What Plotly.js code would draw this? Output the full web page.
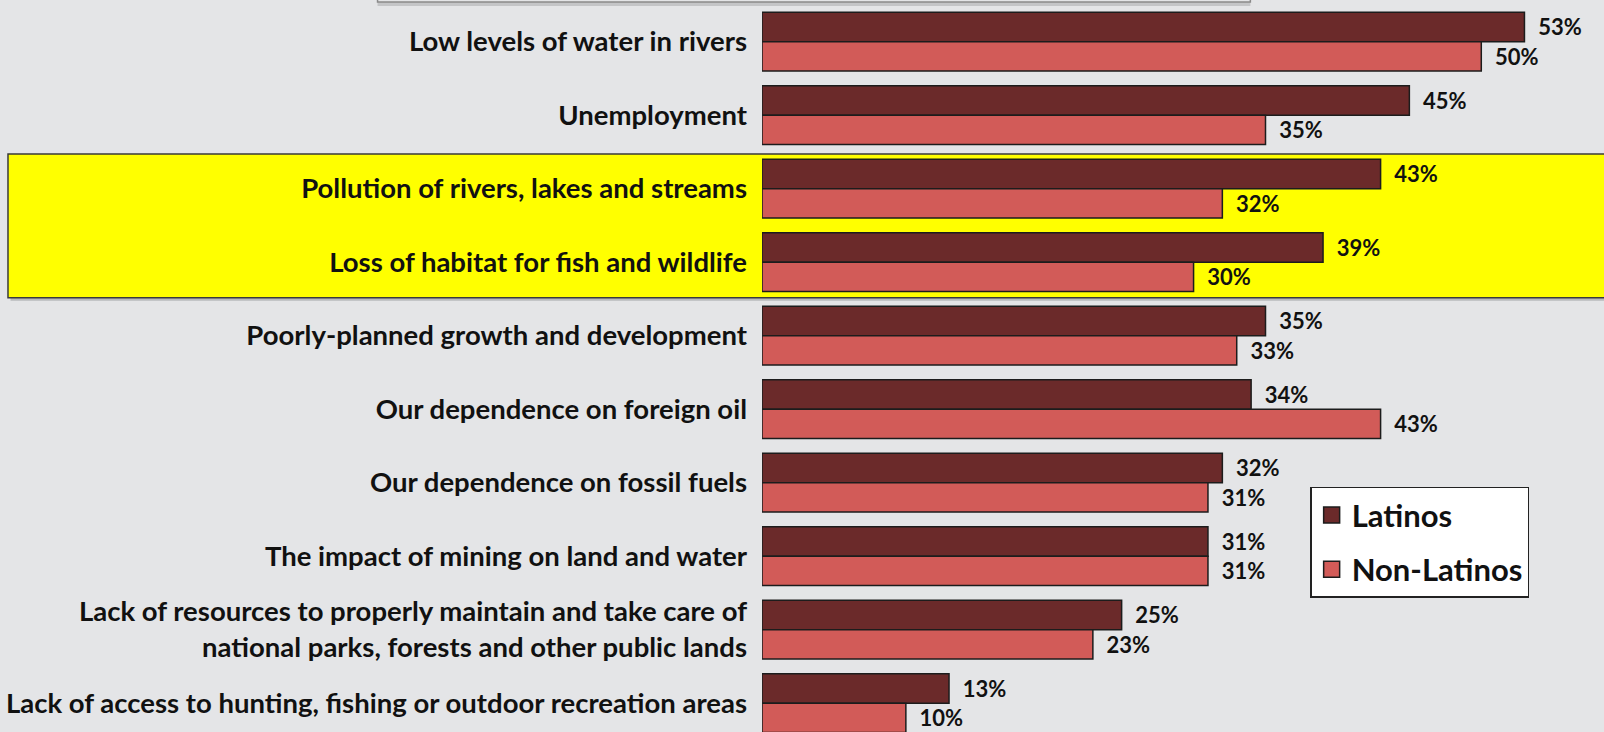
<!DOCTYPE html>
<html><head><meta charset="utf-8">
<script src="https://cdn.plot.ly/plotly-3.0.1.min.js"></script>
<style>html,body{margin:0;padding:0;background:#e4e5e7;}</style>
</head><body><div id="chart" style="width:1604px;height:732px;"></div>
<script>
var categories = [
  "Low levels of water in rivers",
  "Unemployment",
  "Pollution of rivers, lakes and streams",
  "Loss of habitat for fish and wildlife",
  "Poorly-planned growth and development",
  "Our dependence on foreign oil",
  "Our dependence on fossil fuels",
  "The impact of mining on land and water",
  "Lack of resources to properly maintain and take care of<br>national parks, forests and other public lands",
  "Lack of access to hunting, fishing or outdoor recreation areas"
];
var latinos = [53, 45, 43, 39, 35, 34, 32, 31, 25, 13];
var nonLatinos = [50, 35, 32, 30, 33, 43, 31, 31, 23, 10];
var seriesNames = ["Latinos", "Non-Latinos"];
var seriesColors = ["#6b2a2a", "#d25b58"];

var FONT = "Lato, 'Open Sans', sans-serif";
var NB = "\u00a0\u00a0";

function barTrace(name, vals, color) {
  return {
    type: "bar", orientation: "h", name: name,
    x: vals, y: categories,
    marker: {color: color, line: {color: "#1c1c1c", width: 1.5}},
    text: vals.map(function(v){ return NB + v + "%"; }),
    textposition: "outside", cliponaxis: false,
    textfont: {family: FONT, size: 22, color: "#111", weight: "bold"},
    showlegend: false, hoverinfo: "skip"
  };
}
function legendTrace(name, color, grp) {
  return {
    type: "scatter", mode: "markers", name: name,
    x: [null], y: [null], legendgroup: grp,
    marker: {symbol: "square", size: 20, color: color, line: {color: "#1c1c1c", width: 1.5}},
    hoverinfo: "skip"
  };
}

var data = [
  barTrace(seriesNames[0], latinos, seriesColors[0]),
  barTrace(seriesNames[1], nonLatinos, seriesColors[1]),
  legendTrace(seriesNames[0], seriesColors[0], "a"),
  legendTrace(seriesNames[1], seriesColors[1], "b")
];

var layout = {
  width: 1604, height: 732,
  margin: {l: 762, r: 0, t: 0, b: 0, pad: 0},
  paper_bgcolor: "#e4e5e7", plot_bgcolor: "rgba(0,0,0,0)",
  barmode: "group", bargap: 0.2, bargroupgap: 0,
  showlegend: true,
  xaxis: {range: [0, 58.53], visible: false, fixedrange: true},
  yaxis: {
    type: "category", range: [9.392, -0.567],
    showgrid: false, zeroline: false, showline: false, ticks: "",
    ticklabelstandoff: 14,
    tickfont: {family: FONT, size: 27.5, color: "#111", weight: "bold"}
  },
  legend: {
    x: 0.651, y: 0.335, xanchor: "left", yanchor: "top",
    bgcolor: "#ffffff", bordercolor: "#222", borderwidth: 1.5,
    font: {family: FONT, size: 31, color: "#111", weight: "bold"},
    traceorder: "grouped", tracegroupgap: 11, itemwidth: 30
  },
  shapes: [
    {type: "rect", xref: "paper", yref: "paper", layer: "below",
     x0: -0.8925, x1: 1.01, y0: 0.5893, y1: 0.786,
     fillcolor: "#b9babc", line: {width: 0}},
    {type: "rect", xref: "paper", yref: "paper", layer: "below",
     x0: -0.8955, x1: 1.01, y0: 0.5933, y1: 0.7896,
     fillcolor: "#ffff00", line: {color: "#3a3a3a", width: 1.5}},
    {type: "rect", xref: "paper", yref: "paper", layer: "below",
     x0: -0.4566, x1: 0.5800, y0: 0.9918, y1: 1.05,
     fillcolor: "#c4c5c7", line: {width: 0}},
    {type: "rect", xref: "paper", yref: "paper", layer: "below",
     x0: -0.4566, x1: 0.5800, y0: 0.9973, y1: 1.05,
     fillcolor: "#e4e5e7", line: {color: "#8a8a8a", width: 1.5}}
  ]
};

Plotly.newPlot("chart", data, layout, {staticPlot: true, displayModeBar: false});
</script>
</body></html>
